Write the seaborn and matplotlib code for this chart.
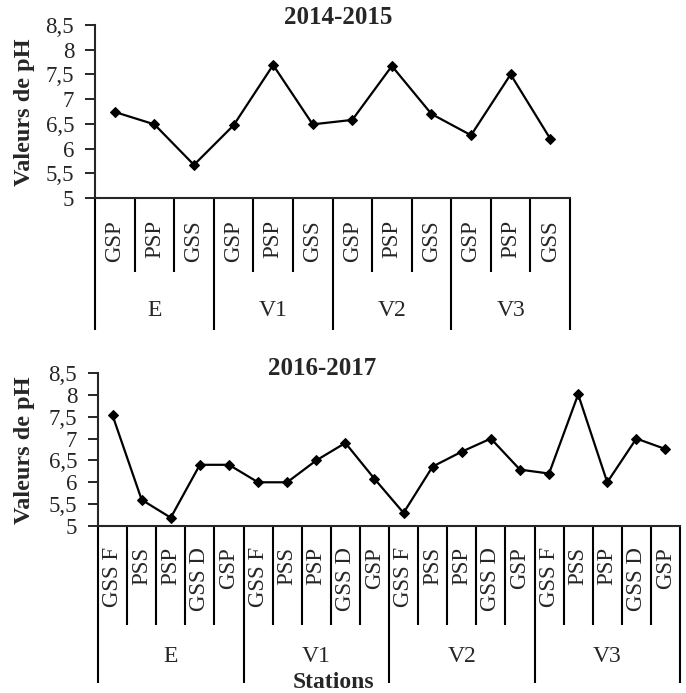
import numpy as np
import pandas as pd
import matplotlib
matplotlib.use("Agg")
import matplotlib.pyplot as plt
import matplotlib.transforms as mtransforms
import seaborn as sns

# données 2014-2015
groupes_1 = ["E", "V1", "V2", "V3"]
types_1 = ["GSP", "PSP", "GSS"]
ph_1 = [6.74, 6.49, 5.67,
        6.47, 7.69, 6.49,
        6.58, 7.67, 6.70,
        6.27, 7.50, 6.20]

# données 2016-2017
groupes_2 = ["E", "V1", "V2", "V3"]
types_2 = ["GSS F", "PSS", "PSP", "GSS D", "GSP"]
ph_2 = [7.53, 5.60, 5.19, 6.40, 6.40,
        6.00, 6.00, 6.50, 6.90, 6.08,
        5.30, 6.36, 6.70, 7.00, 6.29,
        6.20, 8.01, 6.00, 7.00, 6.76]

yticks = [5, 5.5, 6, 6.5, 7, 7.5, 8, 8.5]
ytick_labels = ["5", "5,5", "6", "6,5", "7", "7,5", "8", "8,5"]

W, H = 686, 693

sns.set_style("ticks")
plt.rcParams["font.family"] = ["Liberation Serif", "DejaVu Serif"]


def make_df(groupes, types, ph):
    rows = []
    for g in groupes:
        for t in types:
            rows.append((g, t))
    df = pd.DataFrame(rows, columns=["groupe", "type"])
    df["pH"] = ph
    df["pos"] = np.arange(len(df))
    return df


def fy(px):
    # pixel vertical -> fraction de figure
    return 1 - px / H


def panel(fig, df, box, titre, titre_xy, ylab_xy, y_axis, y_small, y_group, y_cat, y_grp_lab):
    left, right, top, bottom = box
    ax = fig.add_axes([left / W, fy(bottom), (right - left) / W, (bottom - top) / H])
    sns.lineplot(data=df, x="pos", y="pH", ax=ax, color="black", lw=1.6,
                 marker="D", markersize=5.5, markeredgecolor="black", markerfacecolor="black")
    n = len(df)
    ax.set_xlim(-0.5, n - 0.5)
    ax.set_ylim(5, 8.5)
    ax.set_yticks(yticks)
    ax.set_yticklabels(ytick_labels, fontsize=16.5)
    ax.set_xticks([])
    ax.set_xlabel("")
    ax.set_ylabel("")
    ax.tick_params(axis="y", direction="out", length=7, width=1.4, pad=8)
    for s in ["top", "right"]:
        ax.spines[s].set_visible(False)
    for s in ["left", "bottom"]:
        ax.spines[s].set_linewidth(1.5)

    tr = mtransforms.blended_transform_factory(ax.transData, fig.transFigure)
    ntypes = df["type"].nunique()
    # séparateurs des catégories
    for i in range(n + 1):
        x = i - 0.5
        y_end = y_group if i % ntypes == 0 else y_small
        ax.plot([x, x], [fy(y_axis), fy(y_end)], transform=tr, color="black",
                lw=1.5, clip_on=False, solid_capstyle="butt")
    # libellés des types
    for _, r in df.iterrows():
        ax.text(r["pos"], fy(y_cat), r["type"], transform=tr, rotation=90,
                ha="center", va="top", fontsize=16.5)
    # libellés des stations
    for k, g in enumerate(df["groupe"].unique()):
        xc = k * ntypes + (ntypes - 1) / 2
        ax.text(xc, fy(y_grp_lab), g, transform=tr, ha="center", va="center", fontsize=17)

    fig.text(titre_xy[0] / W, fy(titre_xy[1]), titre, ha="center", va="center",
             fontsize=18, fontweight="bold")
    fig.text(ylab_xy[0] / W, fy(ylab_xy[1]), "Valeurs de pH", ha="center", va="center",
             rotation=90, fontsize=17.5, fontweight="bold")
    return ax


fig = plt.figure(figsize=(W / 100, H / 100), dpi=100)

df1 = make_df(groupes_1, types_1, ph_1)
df2 = make_df(groupes_2, types_2, ph_2)

panel(fig, df1, (95, 570, 25, 198), "2014-2015", (338, 17), (25, 112),
      198, 272, 330, 220, 311)
panel(fig, df2, (98, 680, 373, 526), "2016-2017", (322, 368), (25, 450),
      526, 625, 683, 547, 657)

fig.text(333 / W, fy(693), "Stations", ha="center", va="bottom",
         fontsize=17, fontweight="bold")

fig.savefig("out.png", dpi=100)
